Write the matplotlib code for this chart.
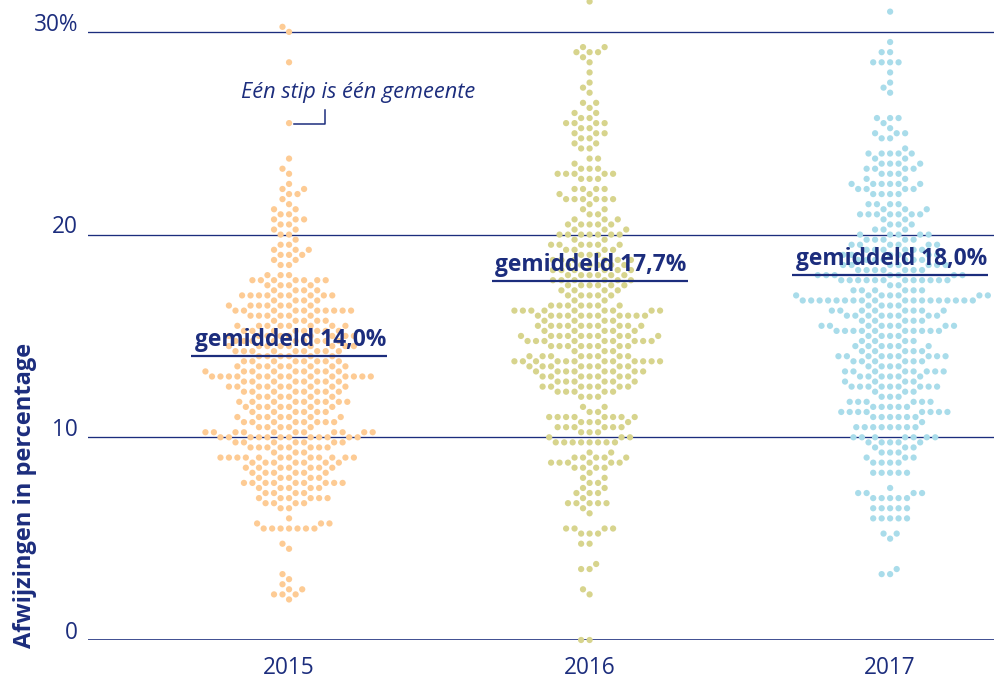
import numpy as np
import pandas as pd
import matplotlib
matplotlib.use("Agg")
import matplotlib.pyplot as plt
import seaborn as sns

NAVY = "#1c2d7d"
YEARS = ["2015", "2016", "2017"]
COLORS = ["#fdcb94", "#d7d48d", "#a9dcea"]
MEANS = [14.0, 17.7, 18.0]
MEAN_LABELS = ["gemiddeld 14,0%", "gemiddeld 17,7%", "gemiddeld 18,0%"]
YTICKS = [0, 10, 20, 30]
YTICK_LABELS = ["0", "10", "20", "30%"]

# afwijzingen per gemeente, afgerond op 0,25 procentpunt: niveau -> aantal gemeenten
lev_2015 = [30.25, 30.0, 28.5, 25.5, 23.75, 23.25, 23.0, 22.5, 22.25, 22.0, 21.75, 21.5,
            21.25, 21.0, 20.75, 20.5, 20.25, 20.0, 19.75, 19.5, 19.25, 19.0, 18.75, 18.5,
            18.0, 17.75, 17.5, 17.25, 17.0, 16.75, 16.5, 16.25, 16.0, 15.75, 15.5, 15.25,
            15.0, 14.75, 14.5, 14.25, 14.0, 13.75, 13.5, 13.25, 13.0, 12.75, 12.5, 12.25,
            12.0, 11.75, 11.5, 11.25, 11.0, 10.75, 10.5, 10.25, 10.0, 9.75, 9.5, 9.25,
            9.0, 8.75, 8.5, 8.25, 8.0, 7.75, 7.5, 7.25, 7.0, 6.75, 6.5, 6.0,
            5.75, 5.5, 4.75, 4.5, 3.25, 3.0, 2.75, 2.5, 2.25, 2.0]
cnt_2015 = [1, 1, 1, 1, 1, 1, 1, 1, 2, 2, 1, 1,
            2, 2, 3, 2, 2, 2, 1, 2, 3, 3, 2, 2,
            3, 7, 4, 4, 9, 4, 7, 10, 6, 5, 8, 8,
            9, 9, 9, 9, 6, 8, 8, 9, 14, 8, 9, 8,
            6, 9, 7, 6, 7, 8, 5, 11, 12, 7, 8, 3,
            12, 7, 7, 6, 5, 9, 5, 4, 6, 4, 2, 1,
            3, 7, 1, 1, 1, 1, 1, 2, 3, 1]

lev_2016 = [31.5, 29.25, 29.0, 28.75, 28.5, 28.0, 27.5, 27.25, 27.0, 26.5, 26.25, 26.0,
            25.75, 25.5, 25.25, 25.0, 24.75, 24.5, 24.25, 23.75, 23.5, 23.25, 23.0, 22.75,
            22.25, 22.0, 21.75, 21.5, 21.25, 21.0, 20.75, 20.5, 20.25, 20.0, 19.75, 19.5,
            19.25, 19.0, 18.75, 18.5, 18.25, 18.0, 17.75, 17.5, 17.25, 17.0, 16.75, 16.5,
            16.25, 16.0, 15.75, 15.5, 15.25, 15.0, 14.75, 14.5, 14.25, 14.0, 13.75, 13.5,
            13.25, 13.0, 12.75, 12.5, 12.25, 12.0, 11.5, 11.25, 11.0, 10.75, 10.5, 10.25,
            10.0, 9.75, 9.25, 9.0, 8.75, 8.5, 8.25, 8.0, 7.75, 7.5, 7.25, 7.0,
            6.75, 6.5, 6.25, 5.5, 5.25, 4.75, 3.75, 3.5, 2.5, 2.25, 0.0]
cnt_2016 = [1, 2, 3, 1, 1, 1, 1, 1, 1, 2, 1, 2,
            2, 4, 2, 3, 2, 2, 2, 2, 1, 3, 5, 3,
            4, 2, 6, 1, 2, 2, 3, 5, 3, 7, 2, 6,
            4, 3, 6, 6, 6, 6, 6, 6, 4, 5, 2, 7,
            9, 11, 4, 10, 5, 10, 9, 8, 3, 8, 12, 8,
            8, 7, 6, 7, 5, 3, 2, 2, 8, 4, 6, 3,
            3, 8, 2, 5, 6, 4, 1, 2, 2, 2, 3, 1,
            5, 1, 1, 4, 3, 2, 1, 2, 1, 1, 2]

lev_2017 = [31.0, 29.5, 29.0, 28.5, 28.0, 27.5, 27.25, 27.0, 25.75, 25.5, 25.25, 25.0,
            24.75, 24.25, 24.0, 23.75, 23.5, 23.25, 23.0, 22.75, 22.5, 22.25, 22.0, 21.5,
            21.25, 21.0, 20.75, 20.5, 20.25, 20.0, 19.75, 19.5, 19.25, 19.0, 18.75, 18.5,
            18.25, 18.0, 17.75, 17.5, 17.25, 17.0, 16.75, 16.5, 16.25, 16.0, 15.75, 15.5,
            15.25, 15.0, 14.75, 14.5, 14.25, 14.0, 13.75, 13.5, 13.25, 13.0, 12.75, 12.5,
            12.25, 12.0, 11.75, 11.5, 11.25, 11.0, 10.75, 10.5, 10.0, 9.75, 9.5, 9.25,
            9.0, 8.75, 8.25, 7.5, 7.25, 7.0, 6.5, 6.0, 5.25, 5.0, 3.5, 3.25]
cnt_2017 = [1, 1, 2, 4, 1, 1, 1, 1, 3, 1, 1, 3,
            2, 1, 5, 2, 4, 4, 3, 2, 6, 4, 4, 4,
            3, 7, 2, 3, 3, 5, 5, 6, 6, 6, 7, 7,
            7, 7, 12, 2, 6, 7, 18, 4, 8, 8, 5, 8,
            10, 4, 4, 6, 5, 9, 6, 4, 8, 6, 4, 9,
            3, 3, 6, 5, 8, 6, 1, 8, 7, 5, 3, 3,
            3, 4, 5, 1, 4, 5, 5, 5, 2, 1, 1, 2]

PX = 20.27  # pixels per procentpunt


def build_frame():
    parts = []
    for year, lev, cnt in ((YEARS[0], lev_2015, cnt_2015),
                           (YEARS[1], lev_2016, cnt_2016),
                           (YEARS[2], lev_2017, cnt_2017)):
        vals = np.repeat(np.array(lev), np.array(cnt))
        parts.append(pd.DataFrame({"jaar": year, "afwijzing": vals}))
    return pd.concat(parts, ignore_index=True)


def main():
    plt.rcParams["font.family"] = ["Open Sans", "DejaVu Sans"]
    df = build_frame()

    fig = plt.figure(figsize=(9.95, 6.79), dpi=100)
    ax = fig.add_axes([88 / 995, 39 / 679, 907 / 995, 640 / 679])

    for v in YTICKS:
        ax.axhline(v, color=NAVY, lw=1.9 if v == 0 else 0.95, zorder=1)

    # linewidth only widens the collision radius of the swarm (edge is invisible)
    sns.swarmplot(data=df, x="jaar", y="afwijzing", hue="jaar", order=YEARS,
                  hue_order=YEARS, palette=COLORS, legend=False, size=4.5,
                  linewidth=1.3, edgecolor="none", clip_on=False, zorder=2, ax=ax)

    ax.set_xlim(-0.669, 2.349)
    ax.set_ylim(0, 640 / PX)
    ax.set_xlabel("")
    ax.set_ylabel("")
    for s in ax.spines.values():
        s.set_visible(False)
    ax.set_yticks([])
    ax.tick_params(axis="x", length=0, pad=11.5, labelsize=16.3, labelcolor=NAVY)

    for v, lbl in zip(YTICKS, YTICK_LABELS):
        ax.annotate(lbl, xy=(0, v), xycoords=ax.get_yaxis_transform(),
                    xytext=(-7.2, 1), textcoords="offset points",
                    ha="right", va="baseline", fontsize=16.3, color=NAVY)

    half = 98 / 300.5
    for i, (m, lbl) in enumerate(zip(MEANS, MEAN_LABELS)):
        ax.plot([i - half, i + half], [m, m], color=NAVY, lw=1.6, zorder=3,
                solid_capstyle="butt")
        ax.annotate(lbl, xy=(i, m), xytext=(1, 2.8), textcoords="offset points",
                    ha="center", va="bottom", fontsize=16.4, fontweight="bold",
                    color=NAVY, zorder=4)

    # toelichting bij de losse stip van 2015
    ax.text(-48 / 300.5, (640 - 98) / PX, "Eén stip is één gemeente", ha="left",
            va="baseline", fontsize=15.7, style="italic", color=NAVY)
    ax.plot([5 / 300.5, 36 / 300.5, 36 / 300.5], [25.45, 25.45, 26.15],
            color=NAVY, lw=1.1, zorder=3)

    fig.text(25 / 995, 31 / 679, "Afwijzingen in percentage", rotation=90,
             ha="center", va="bottom", fontsize=17, fontweight="bold", color=NAVY)

    fig.savefig("out.png", dpi=100)
    plt.close(fig)


if __name__ == "__main__":
    main()
